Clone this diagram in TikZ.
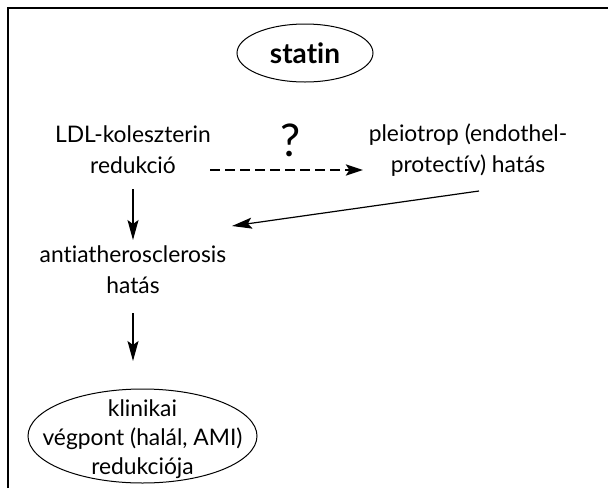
\documentclass[tikz,border=0pt]{standalone}
\usepackage{fontspec}
\setmainfont{Lato}[Ligatures={NoCommon}]
\usetikzlibrary{arrows.meta,shapes.geometric}
\begin{document}
\begin{tikzpicture}[x=1pt,y=-1pt,
  txt/.style={align=center,font=\fontsize{22.8}{31}\selectfont,inner sep=0pt},
  oval/.style={ellipse,draw,line width=1pt,align=center},
  arr/.style={line width=1.2pt,-{Stealth[length=20pt,width=11pt,inset=4pt]}},
  darr/.style={line width=2.8pt,dash pattern=on 10pt off 5pt,-{Stealth[length=17pt,width=11pt,inset=3.5pt]}}
]
\useasboundingbox (0,0) rectangle (608,488);
\draw[line width=1.5pt] (8,488) -- (8,8) -- (608,8);
\node[oval,inner xsep=-20pt,inner ysep=-20pt,minimum width=136pt,minimum height=58pt,font=\fontsize{28}{30}\selectfont\bfseries] (statin) at (305,53) {statin};
\node[txt] (ldl) at (133,150) {LDL-koleszterin\\redukció};
\node[txt] (pleio) at (468,150) {pleiotrop (endothel-\\protectív) hatás};
\node[font=\fontsize{45}{45}\selectfont,inner sep=0pt] (q) at (291,140) {?};
\node[txt] (anti) at (133,270) {antiatherosclerosis\\hatás};
\node[oval,inner xsep=-40pt,inner ysep=-25pt,minimum width=229pt,minimum height=94pt,font=\fontsize{22.8}{29}\selectfont] (klin) at (142.5,436) {\rule{0pt}{24pt}klinikai\\végpont (halál, AMI)\\redukciója};
\coordinate (d1) at (210,170);
\coordinate (d2) at (363,170);
\draw[darr] (d1) -- (d2);
\coordinate (p1) at (479,191);
\coordinate (p2) at (232,226);
\draw[arr] (p1) -- (p2);
\coordinate (a1) at (133,189);
\coordinate (a2) at (133,240);
\draw[arr] (a1) -- (a2);
\coordinate (b1) at (133,313);
\coordinate (b2) at (133,361);
\draw[arr] (b1) -- (b2);
\end{tikzpicture}
\end{document}
